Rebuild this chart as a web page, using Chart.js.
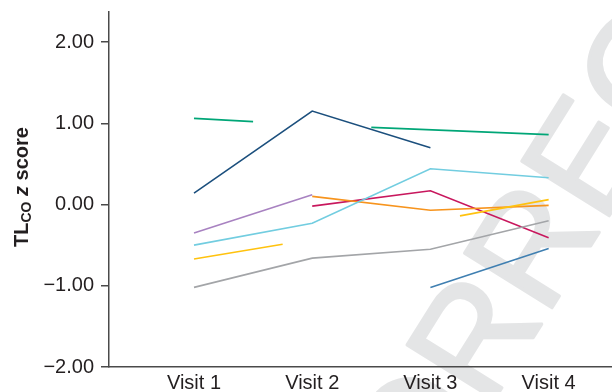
<!DOCTYPE html>
<html>
<head>
<meta charset="utf-8">
<script src="https://cdn.jsdelivr.net/npm/chart.js@4"></script>
<style>
html,body{margin:0;padding:0;background:#fff;}
#wrap{width:612px;height:392px;position:relative;}
</style>
</head>
<body>
<div id="wrap"><canvas id="c" width="612" height="392"></canvas></div>
<script>
// Visit categories (tick labels at visit positions 1..4)
const visitLabels = ['Visit 1', 'Visit 2', 'Visit 3', 'Visit 4'];
const yTicks = [-2, -1, 0, 1, 2];

// Each patient: visit positions and TLCO z scores
const navyX = [1, 2, 3];          const navyY = [0.14, 1.15, 0.70];
const greenAX = [1, 1.5];         const greenAY = [1.06, 1.02];
const greenBX = [2.5, 4];         const greenBY = [0.95, 0.86];
const purpleX = [1, 2];           const purpleY = [-0.35, 0.12];
const cyanX = [1, 2, 3, 4];       const cyanY = [-0.50, -0.23, 0.44, 0.33];
const yellowAX = [1, 1.75];       const yellowAY = [-0.67, -0.49];
const yellowBX = [3.25, 4];       const yellowBY = [-0.14, 0.06];
const grayX = [1, 2, 3, 4];       const grayY = [-1.02, -0.66, -0.55, -0.20];
const orangeX = [2, 3, 4];        const orangeY = [0.10, -0.07, -0.01];
const crimsonX = [2, 3, 4];       const crimsonY = [-0.02, 0.17, -0.41];
const steelX = [3, 4];            const steelY = [-1.02, -0.54];

const series = [
  [grayX, grayY, '#a3a5a8'],
  [steelX, steelY, '#3f7fb1'],
  [yellowAX, yellowAY, '#ffc20e'],
  [yellowBX, yellowBY, '#ffc20e'],
  [cyanX, cyanY, '#72cde0'],
  [purpleX, purpleY, '#a882c1'],
  [orangeX, orangeY, '#f7941d'],
  [crimsonX, crimsonY, '#c8175d'],
  [greenAX, greenAY, '#00a677'],
  [greenBX, greenBY, '#00a677'],
  [navyX, navyY, '#1b4f7d']
];

const datasets = series.map(([xs, ys, col]) => ({
  data: xs.map((x, i) => ({x: x, y: ys[i]})),
  borderColor: col,
  backgroundColor: col,
  borderWidth: 1.6,
  pointRadius: 0,
  showLine: true,
  tension: 0,
  fill: false
}));

const FONT = "'Liberation Sans', Arial, Helvetica, sans-serif";

const watermark = {
  id: 'watermark',
  beforeDraw(chart) {
    const ctx = chart.ctx;
    ctx.save();
    ctx.font = '150px ' + FONT;
    ctx.fillStyle = '#e4e5e6';
    ctx.strokeStyle = '#e4e5e6';
    ctx.lineWidth = 3;
    ctx.lineJoin = 'round';
    const ang = 58 * Math.PI / 180;
    ctx.translate(488, 410);
    ctx.rotate(-ang);
    const off = ctx.measureText('UNCO').width;
    ctx.textBaseline = 'alphabetic';
    ctx.fillText('UNCORRECTED PROOF', -off, 0);
    ctx.strokeText('UNCORRECTED PROOF', -off, 0);
    ctx.restore();
  }
};

const yTitle = {
  id: 'yTitle',
  afterDraw(chart) {
    const ctx = chart.ctx;
    ctx.save();
    ctx.translate(28, 187);
    ctx.rotate(-Math.PI / 2);
    ctx.fillStyle = '#231f20';
    ctx.textBaseline = 'alphabetic';
    const parts = [
      ['TL', 'bold 20px ' + FONT, 0],
      ['CO', 'bold 14px ' + FONT, 3],
      [' ', 'bold 20px ' + FONT, 0],
      ['z', 'italic bold 20px ' + FONT, 0],
      [' score', 'bold 20px ' + FONT, 0]
    ];
    let total = 0;
    parts.forEach(p => { ctx.font = p[1]; total += ctx.measureText(p[0]).width; });
    let x = -total / 2;
    parts.forEach(p => {
      ctx.font = p[1];
      ctx.fillText(p[0], x, p[2]);
      x += ctx.measureText(p[0]).width;
    });
    ctx.restore();
  }
};

new Chart(document.getElementById('c'), {
  type: 'scatter',
  data: { datasets: datasets },
  plugins: [watermark, yTitle],
  options: {
    responsive: false,
    animation: false,
    events: [],
    layout: { padding: { left: 0, right: 0, top: 12, bottom: 0 } },
    plugins: { legend: { display: false }, tooltip: { enabled: false } },
    scales: {
      x: {
        type: 'linear',
        min: 0.281,
        max: 4.536,
        grid: { display: false, drawTicks: false },
        border: { display: true, color: '#4a4a4a', width: 1.5 },
        afterBuildTicks: (s) => { s.ticks = visitLabels.map((l, i) => ({ value: i + 1 })); },
        afterFit: (s) => { s.height = 25; s.paddingLeft = 0; s.paddingRight = 0; },
        ticks: {
          autoSkip: false,
          maxRotation: 0,
          padding: 4,
          color: '#231f20',
          font: { family: FONT, size: 20 },
          callback: (v) => visitLabels[Math.round(v) - 1]
        }
      },
      y: {
        type: 'linear',
        min: -2,
        max: 2.37,
        grid: { drawOnChartArea: false, drawTicks: true, tickLength: 8, color: '#4a4a4a', lineWidth: 1.5 },
        border: { display: true, color: '#4a4a4a', width: 1.5 },
        afterBuildTicks: (s) => { s.ticks = yTicks.map(v => ({ value: v })); },
        afterFit: (s) => { s.width = 109; s.paddingTop = 0; s.paddingBottom = 0; },
        ticks: {
          padding: 7,
          color: '#231f20',
          font: { family: FONT, size: 20 },
          callback: (v) => (v < 0 ? '\u2212' : '') + Math.abs(v).toFixed(2)
        }
      }
    }
  }
});
</script>
</body>
</html>
